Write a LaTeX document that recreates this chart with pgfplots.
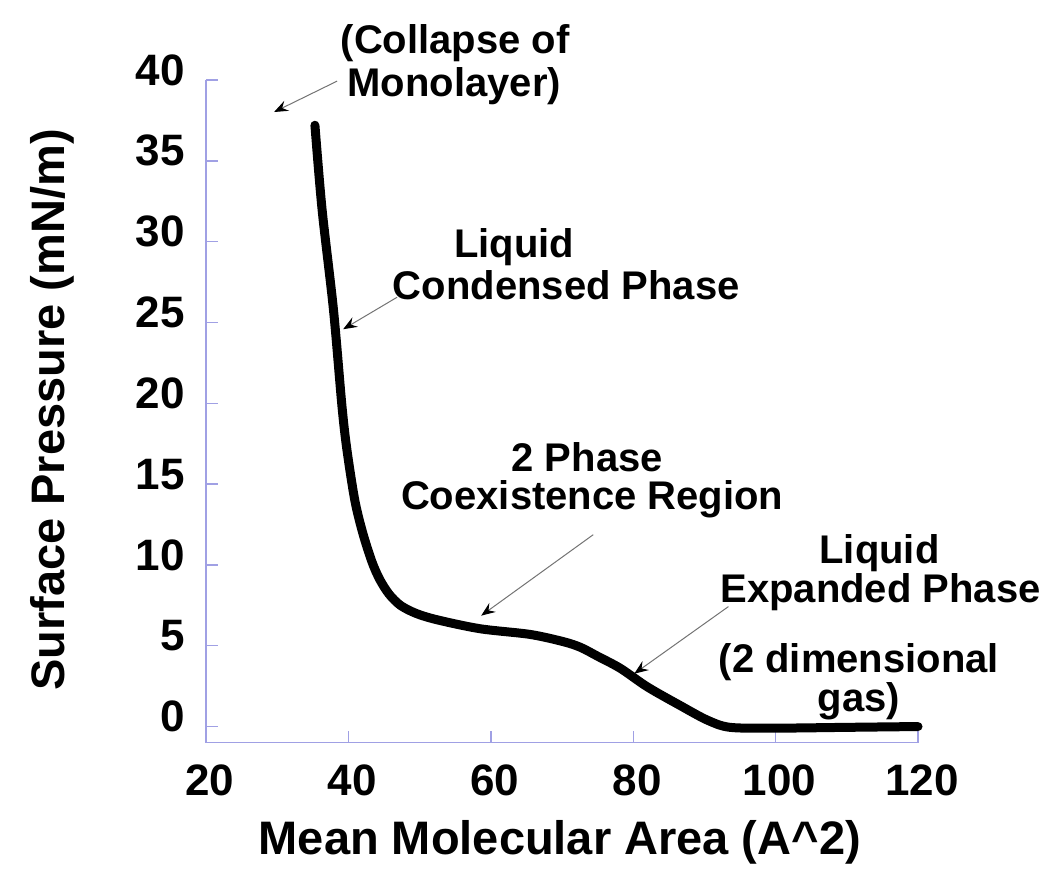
\documentclass[border=0pt]{standalone}
\usepackage{pgfplots}
\pgfplotsset{compat=1.18}
\usepackage{fontspec}
\setmainfont{Liberation Sans}
\usetikzlibrary{arrows.meta}
\definecolor{axisblue}{RGB}{160,160,228}

\begin{document}
\begin{tikzpicture}[
  note/.style={font=\fontsize{20bp}{22bp}\selectfont\bfseries, anchor=base, inner sep=0pt},
  pointer/.style={draw=black!55, line width=0.5bp,
    -{Stealth[length=7bp,width=5.5bp,inset=2.5bp,black]}}
]
\useasboundingbox (-103bp,-66.15bp) rectangle (422bp,371.35bp);
\begin{axis}[
  at={(0,0)}, anchor=south west,
  scale only axis, width=356bp, height=331.35bp,
  xmin=20, xmax=120, ymin=-1, ymax=40,
  axis lines*=left,
  axis line style={axisblue, line width=0.7bp},
  tick style={axisblue, line width=0.7bp},
  tick align=inside,
  major tick length=6bp,
  xtick={20,40,...,120}, ytick={0,5,...,40},
  /pgf/number format/assume math mode=true,
  ticklabel style={font=\fontsize{22bp}{24bp}\selectfont\bfseries, inner sep=0pt},
  yticklabel style={anchor=east, xshift=-10.5bp, yshift=5bp},
  xticklabel style={anchor=north, yshift=-11bp, xshift=2bp},
  xlabel={Mean Molecular Area (A\textasciicircum 2)},
  ylabel={Surface Pressure (mN/m)},
  label style={font=\fontsize{23.5bp}{26bp}\selectfont\bfseries, inner sep=0pt},
  xlabel style={at={(axis description cs:0.497,-0.169)}, anchor=base},
  ylabel style={at={(axis description cs:-0.216,0.502)}, anchor=center},
  clip=false,
]
% isotherm
\addplot[black, line width=4.5bp, smooth, tension=0.5, line cap=round] coordinates {
  (35.3,37.2) (36.3,32.0) (37.9,25.8) (39.1,19.8) (39.8,17.1) (40.9,14.0)
  (42.0,12.0) (43.3,10.2) (44.4,9.1) (45.7,8.2) (47.3,7.5) (49.5,7.0) (52.5,6.6)
  (58.5,6.05) (65.5,5.7) (70.2,5.25) (72.6,4.9) (75.0,4.35) (78.2,3.6)
  (82.0,2.45) (86.6,1.3) (90.4,0.4) (93.6,-0.05) (100,-0.1) (110,-0.05) (120,0.0)
};

% annotations
\node[note] at (55.0,41.61) {(Collapse of};
\node[note] at (54.86,39.01) {Monolayer)};
\draw[pointer] (38.41,39.93) -- (29.56,38.02);

\node[note] at (63.29,29.04) {Liquid};
\node[note] at (70.60,26.44) {Condensed Phase};
\draw[pointer] (46.84,26.56) -- (39.26,24.58);

\node[note] at (73.55,15.78) {2 Phase};
\node[note] at (74.25,13.43) {Coexistence Region};
\draw[pointer] (74.39,11.87) -- (58.65,6.86);

\node[note] at (114.59,10.07) {Liquid};
\node[note] at (114.73,7.67) {Expanded Phase};
\draw[pointer] (93.37,7.42) -- (80.15,3.27);

\node[note, align=center, font=\fontsize{20bp}{18bp}\selectfont\bfseries] at (111.7,0.91) {(2 dimensional\\gas)};
\end{axis}
\end{tikzpicture}
\end{document}
